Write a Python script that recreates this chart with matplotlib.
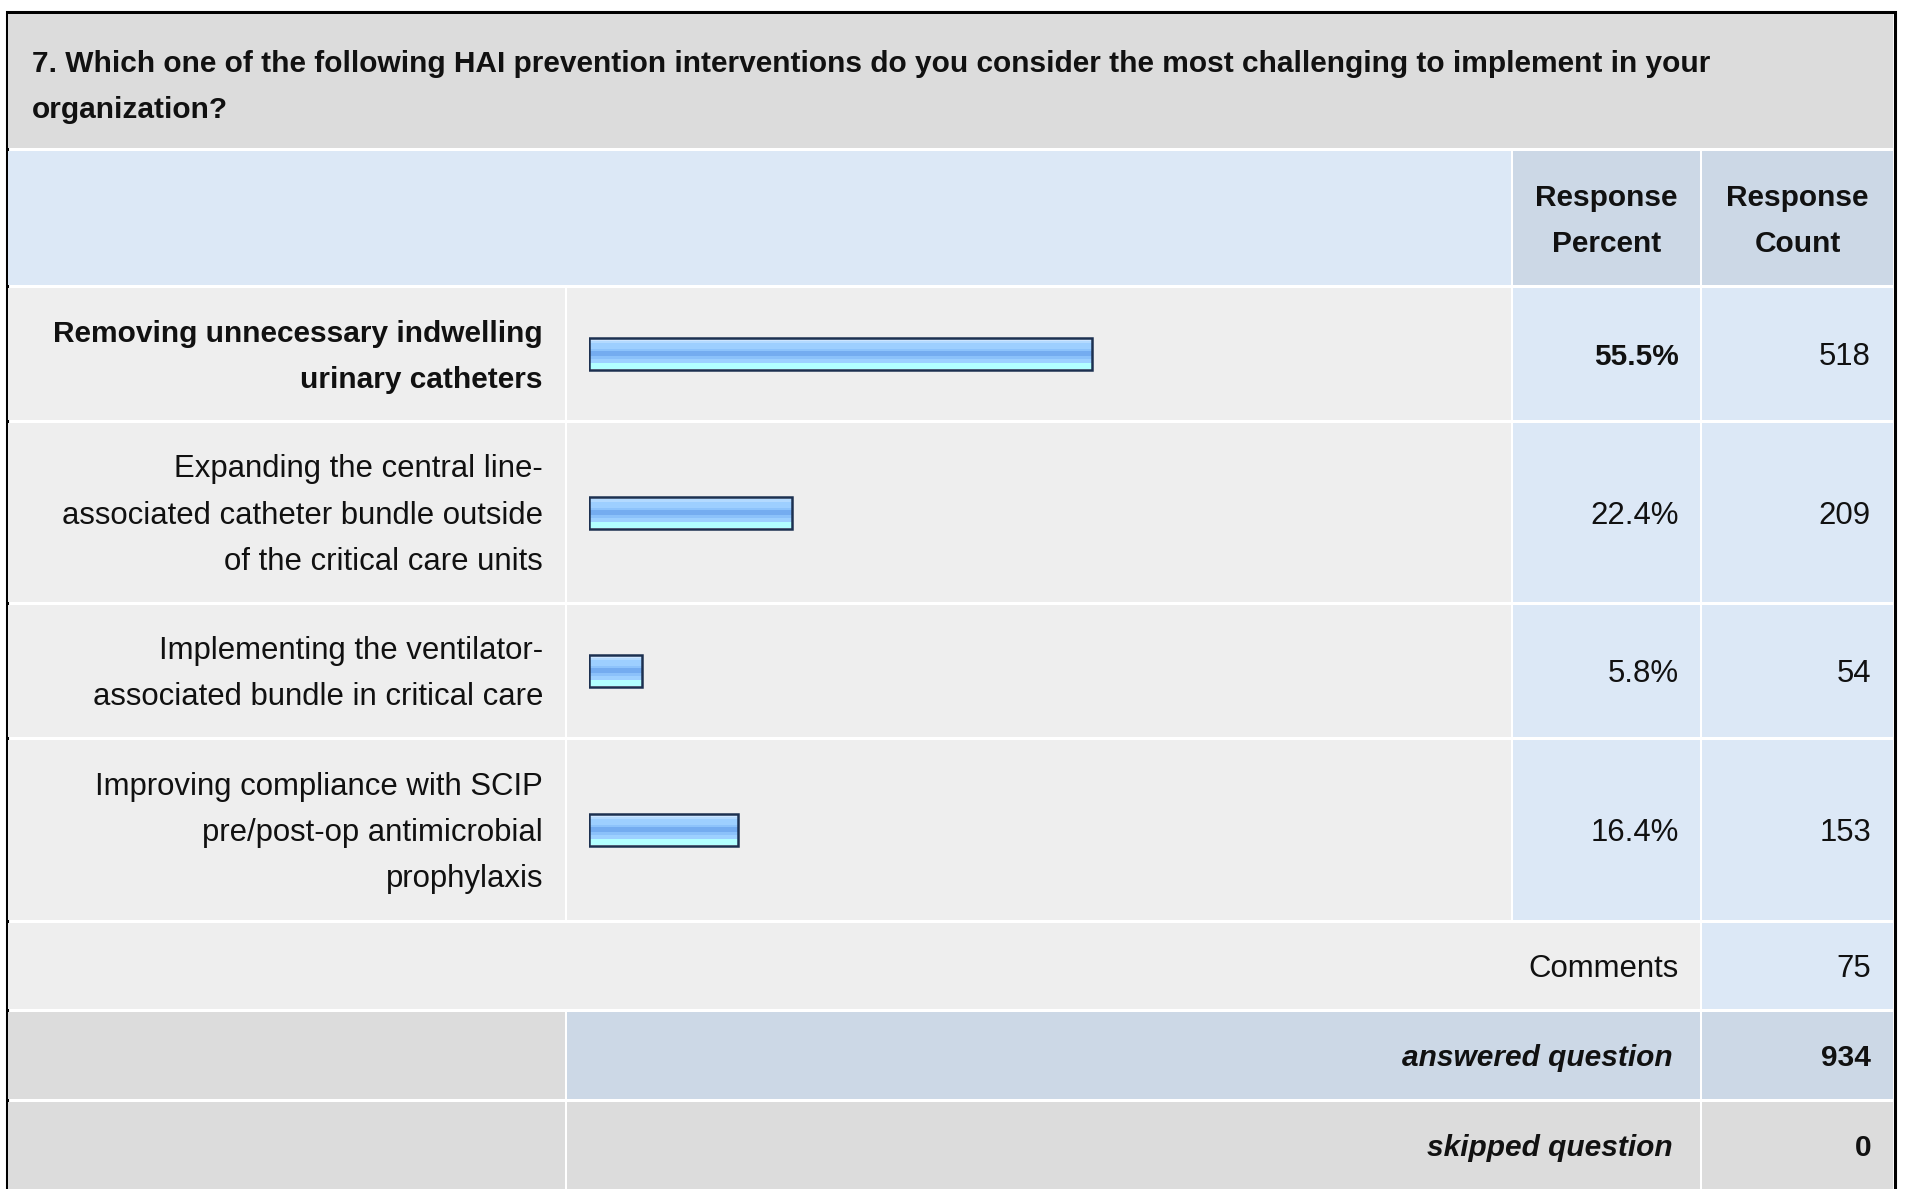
import matplotlib
matplotlib.use("Agg")
import matplotlib.pyplot as plt
from matplotlib.patches import Rectangle

# ---------------- data ----------------
title_lines = ["7. Which one of the following HAI prevention interventions do you consider the most challenging to implement in your",
               "organization?"]
header_pct = ["Response", "Percent"]
header_cnt = ["Response", "Count"]
categories = [
    ["Removing unnecessary indwelling", "urinary catheters"],
    ["Expanding the central line-", "associated catheter bundle outside", "of the critical care units"],
    ["Implementing the ventilator-", "associated bundle in critical care"],
    ["Improving compliance with SCIP", "pre/post-op antimicrobial", "prophylaxis"],
]
percents = [55.5, 22.4, 5.8, 16.4]
counts = [518, 209, 54, 153]
comments_label = "Comments"
comments_count = 75
answered_label = "answered question"
answered_count = 934
skipped_label = "skipped question"
skipped_count = 0

# ---------------- layout (pixels) ----------------
W, H = 1907, 1189
FONT = ["Liberation Sans", "Arial", "DejaVu Sans"]
FS_REG = 22.4
FS_BOLD = 21.5
C_TITLE = "#DCDCDC"
C_LBLUE = "#DCE8F6"
C_DBLUE = "#CCD8E6"
C_ROW = "#EEEEEE"
TXT = "#111111"

XL, XLAB, XBAR, XPCT, XR = 8, 565, 1511, 1700, 1893
G = 3
title_y = (14, 148)
header_y = (151, 285)
row_y = [(288, 420), (423, 602), (605, 737), (740, 920)]
comm_y = (923, 1009)
ans_y = (1012, 1099)
skip_y = (1102, 1189)
LINE = 46
BASE = 11

fig = plt.figure(figsize=(W / 100, H / 100), dpi=100)
fig.patch.set_facecolor("white")
ax = fig.add_axes([0, 0, 1, 1])
ax.set_xlim(0, W)
ax.set_ylim(H, 0)
ax.axis("off")


def cell(x0, x1, yy, color):
    ax.add_patch(Rectangle((x0, yy[0]), x1 - x0, yy[1] - yy[0], facecolor=color,
                           edgecolor="none", zorder=1))


def lines_text(x, yy, lines, ha="right", weight="normal", style="normal"):
    c = (yy[0] + yy[1]) / 2
    n = len(lines)
    fs = FS_BOLD if weight == "bold" else FS_REG
    for i, s in enumerate(lines):
        y = c + (i - (n - 1) / 2) * LINE + BASE
        ax.text(x, y, s, ha=ha, va="baseline", fontsize=fs, family=FONT,
                fontweight=weight, fontstyle=style, color=TXT, zorder=5)


# outer border
ax.add_patch(Rectangle((6.5, 11.5), XR + 2 - 6.5, H + 20, facecolor="white",
                       edgecolor="black", linewidth=2.2, zorder=0))

# title
cell(XL, XR, title_y, C_TITLE)
for i, s in enumerate(title_lines):
    ax.text(32, 61 + i * LINE + BASE, s, ha="left", va="baseline", fontsize=FS_BOLD,
            family=FONT, fontweight="bold", color=TXT, zorder=5)

# header
cell(XL, XBAR, header_y, C_LBLUE)
cell(XBAR + G - 1, XPCT, header_y, C_DBLUE)
cell(XPCT + G - 1, XR, header_y, C_DBLUE)
lines_text((XBAR + XPCT) / 2 + 1, header_y, header_pct, ha="center", weight="bold")
lines_text((XPCT + XR) / 2 + 1, header_y, header_cnt, ha="center", weight="bold")

# data rows
for i, yy in enumerate(row_y):
    cell(XL, XLAB, yy, C_ROW)
    cell(XLAB + G - 1, XBAR, yy, C_ROW)
    cell(XBAR + G - 1, XPCT, yy, C_LBLUE)
    cell(XPCT + G - 1, XR, yy, C_LBLUE)
    w = "bold" if i == 0 else "normal"
    lines_text(543, yy, categories[i], weight=w)
    lines_text(1679, yy, [f"{percents[i]:.1f}%"], weight=w)
    lines_text(1871, yy, [str(counts[i])])

# comments row
cell(XL, XPCT, comm_y, C_ROW)
cell(XPCT + G - 1, XR, comm_y, C_LBLUE)
lines_text(1679, comm_y, [comments_label])
lines_text(1871, comm_y, [str(comments_count)])

# answered row
cell(XL, XLAB, ans_y, C_TITLE)
cell(XLAB + G - 1, XPCT, ans_y, C_DBLUE)
cell(XPCT + G - 1, XR, ans_y, C_DBLUE)
lines_text(1673, ans_y, [answered_label], weight="bold", style="italic")
lines_text(1871, ans_y, [str(answered_count)], weight="bold")

# skipped row
cell(XL, XLAB, skip_y, C_TITLE)
cell(XLAB + G - 1, XPCT, skip_y, C_TITLE)
cell(XPCT + G - 1, XR, skip_y, C_TITLE)
lines_text(1673, skip_y, [skipped_label], weight="bold", style="italic")
lines_text(1871, skip_y, [str(skipped_count)], weight="bold")

# ---------------- bars ----------------
BX0, BX100 = 589, 1496
bax = fig.add_axes([BX0 / W, 0, (BX100 - BX0) / W, 1])
bax.set_xlim(0, 100)
bax.set_ylim(H, 0)
bax.axis("off")
bax.patch.set_alpha(0)

bar_h = 34
inner = 30
stripes = [("#cde5ff", 0.07), ("#b3daff", 0.07), ("#9dcfff", 0.20), ("#8dc3fb", 0.08),
           ("#74acf0", 0.16), ("#8bc1fa", 0.10), ("#9dd0ff", 0.14), ("#b2ffff", 0.18)]
centers = [(a + b) / 2 for a, b in row_y]
for yc, p in zip(centers, percents):
    top = yc - inner / 2
    for col, frac in stripes:
        h = inner * frac
        bax.barh(top + h / 2, p, height=h + 0.3, left=0, color=col, edgecolor="none", zorder=2)
        top += h
    bax.barh(yc, p, height=bar_h - 2, left=0, fill=False, edgecolor="#1c3050",
             linewidth=1.8, zorder=3)

fig.savefig("out.png", dpi=100)
